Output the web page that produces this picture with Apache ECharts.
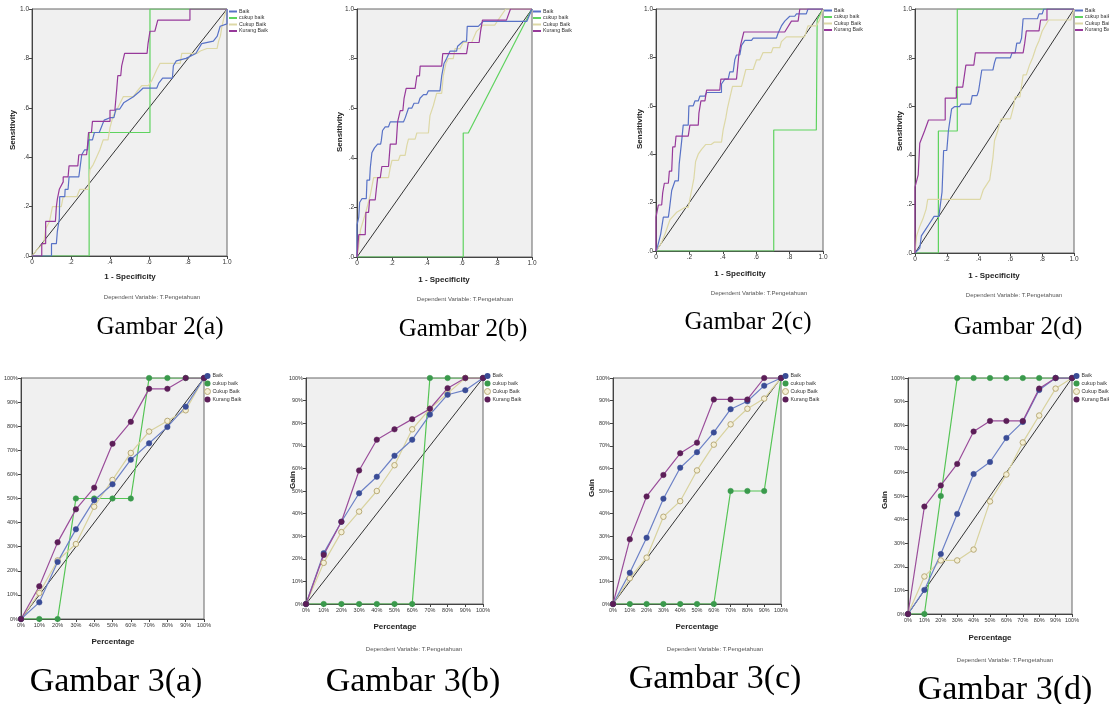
<!DOCTYPE html>
<html>
<head>
<meta charset="utf-8">
<title>ROC dan Gain</title>
<script src="https://cdn.jsdelivr.net/npm/echarts@6/dist/echarts.min.js"></script>
<style>
  html, body { margin: 0; padding: 0; background: #fff; }
  #main { width: 1109px; height: 704px; }
</style>
</head>
<body>
<div id="main"></div>
<script>
// ---- data ----
var groupNames = ['Baik', 'cukup baik', 'Cukup Baik', 'Kurang Baik'];
var diagRoc = [[0, 0], [1, 1]];
var diagGain = [[0, 0], [100, 100]];
var gainPct = [0, 10, 20, 30, 40, 50, 60, 70, 80, 90, 100];

// Gambar 2(a)
var rocA_baik = [[0,0],[0.10,0],[0.10,0.05],[0.125,0.05],[0.13,0.1],[0.14,0.15],[0.142,0.24],[0.168,0.24],[0.17,0.27],[0.185,0.27],[0.19,0.32],[0.24,0.32],[0.245,0.35],[0.255,0.41],[0.265,0.41],[0.27,0.43],[0.285,0.43],[0.29,0.47],[0.31,0.47],[0.32,0.5],[0.345,0.5],[0.35,0.51],[0.37,0.55],[0.40,0.56],[0.42,0.56],[0.43,0.595],[0.45,0.595],[0.47,0.62],[0.52,0.645],[0.55,0.665],[0.57,0.68],[0.64,0.68],[0.65,0.70],[0.67,0.72],[0.72,0.72],[0.725,0.77],[0.74,0.79],[0.79,0.8],[0.84,0.82],[0.87,0.86],[0.93,0.87],[0.95,0.89],[0.965,0.93],[1,0.94],[1,1]];
var rocA_cukup = [[0,0],[0.293,0],[0.293,0.5],[0.605,0.5],[0.605,1],[1,1]];
var rocA_cukupB = [[0,0],[0.03,0.03],[0.06,0.05],[0.07,0.11],[0.09,0.14],[0.105,0.2],[0.15,0.2],[0.16,0.24],[0.23,0.24],[0.245,0.27],[0.29,0.27],[0.297,0.35],[0.314,0.37],[0.331,0.4],[0.348,0.43],[0.365,0.47],[0.39,0.47],[0.4,0.52],[0.417,0.57],[0.434,0.59],[0.468,0.645],[0.52,0.645],[0.537,0.665],[0.563,0.69],[0.597,0.69],[0.614,0.71],[0.64,0.755],[0.657,0.78],[0.76,0.78],[0.768,0.82],[0.846,0.82],[0.863,0.83],[0.897,0.84],[0.949,0.84],[0.957,0.87],[0.966,0.89],[0.974,0.93],[0.986,0.97],[1,1]];
var rocA_kurang = [[0,0],[0.05,0],[0.05,0.05],[0.07,0.05],[0.07,0.14],[0.12,0.14],[0.125,0.2],[0.13,0.23],[0.14,0.27],[0.16,0.3],[0.16,0.32],[0.185,0.32],[0.19,0.365],[0.235,0.365],[0.24,0.41],[0.28,0.41],[0.285,0.45],[0.29,0.5],[0.305,0.5],[0.31,0.545],[0.40,0.545],[0.40,0.59],[0.425,0.59],[0.435,0.68],[0.44,0.73],[0.455,0.73],[0.46,0.77],[0.47,0.77],[0.475,0.82],[0.59,0.82],[0.595,0.86],[0.605,0.91],[0.63,0.91],[0.645,0.955],[0.81,0.955],[0.81,1],[1,1]];

// Gambar 2(b)
var rocB_baik = [[0,0],[0,0.13],[0.01,0.16],[0.015,0.22],[0.028,0.235],[0.053,0.235],[0.057,0.31],[0.072,0.31],[0.076,0.36],[0.085,0.42],[0.1,0.44],[0.118,0.455],[0.135,0.455],[0.139,0.47],[0.146,0.51],[0.161,0.525],[0.18,0.525],[0.19,0.545],[0.266,0.545],[0.275,0.56],[0.294,0.6],[0.313,0.6],[0.326,0.62],[0.351,0.62],[0.36,0.64],[0.38,0.655],[0.398,0.655],[0.408,0.67],[0.474,0.67],[0.484,0.73],[0.497,0.78],[0.512,0.8],[0.531,0.83],[0.569,0.83],[0.575,0.85],[0.607,0.87],[0.626,0.87],[0.63,0.93],[0.693,0.93],[0.721,0.95],[0.97,0.95],[1,1]];
var rocB_cukup = [[0,0],[0.607,0],[0.607,0.5],[0.636,0.5],[1,1]];
var rocB_cukupB = [[0,0],[0.01,0.045],[0.02,0.11],[0.05,0.18],[0.076,0.25],[0.095,0.32],[0.18,0.32],[0.19,0.36],[0.2,0.39],[0.237,0.39],[0.247,0.41],[0.275,0.41],[0.285,0.45],[0.294,0.475],[0.332,0.475],[0.342,0.5],[0.408,0.5],[0.417,0.57],[0.436,0.61],[0.455,0.66],[0.484,0.66],[0.493,0.73],[0.508,0.78],[0.522,0.8],[0.55,0.8],[0.56,0.84],[0.588,0.84],[0.607,0.865],[0.655,0.865],[0.683,0.91],[0.721,0.935],[0.787,0.935],[0.806,0.955],[0.85,1],[1,1]];
var rocB_kurang = [[0,0],[0.01,0.09],[0.047,0.09],[0.051,0.18],[0.066,0.18],[0.072,0.23],[0.104,0.23],[0.11,0.27],[0.118,0.32],[0.133,0.32],[0.142,0.365],[0.18,0.365],[0.19,0.455],[0.224,0.455],[0.232,0.545],[0.247,0.59],[0.262,0.59],[0.269,0.64],[0.281,0.68],[0.332,0.68],[0.342,0.73],[0.357,0.73],[0.361,0.77],[0.484,0.77],[0.49,0.82],[0.626,0.82],[0.636,0.865],[0.698,0.865],[0.706,0.91],[0.717,0.955],[0.854,0.955],[0.877,1],[1,1]];

// Gambar 2(c)
var rocC_baik = [[0,0],[0.01,0.02],[0.028,0.07],[0.044,0.14],[0.074,0.14],[0.08,0.17],[0.094,0.25],[0.114,0.29],[0.134,0.29],[0.139,0.36],[0.153,0.45],[0.163,0.52],[0.193,0.52],[0.197,0.6],[0.223,0.6],[0.233,0.62],[0.253,0.62],[0.263,0.64],[0.293,0.64],[0.303,0.655],[0.392,0.655],[0.392,0.69],[0.412,0.71],[0.432,0.71],[0.442,0.74],[0.462,0.74],[0.472,0.79],[0.482,0.81],[0.502,0.81],[0.512,0.85],[0.532,0.87],[0.572,0.87],[0.582,0.88],[0.721,0.88],[0.731,0.9],[0.751,0.93],[0.771,0.95],[0.801,0.97],[0.831,0.97],[0.841,0.98],[0.9,0.98],[0.91,1],[1,1]];
var rocC_cukup = [[0,0],[0.705,0],[0.705,0.5],[0.96,0.5],[0.965,0.955],[1,1]];
var rocC_cukupB = [[0,0],[0.03,0.03],[0.054,0.07],[0.084,0.13],[0.124,0.16],[0.173,0.18],[0.193,0.18],[0.213,0.25],[0.227,0.3],[0.237,0.37],[0.253,0.4],[0.273,0.42],[0.297,0.44],[0.33,0.44],[0.35,0.45],[0.392,0.45],[0.402,0.5],[0.418,0.55],[0.428,0.59],[0.458,0.68],[0.512,0.68],[0.538,0.75],[0.582,0.75],[0.602,0.79],[0.622,0.79],[0.641,0.82],[0.691,0.82],[0.701,0.84],[0.741,0.84],[0.751,0.865],[0.761,0.865],[0.781,0.885],[0.89,0.885],[0.91,0.93],[0.96,0.93],[0.98,0.955],[1,1]];
var rocC_kurang = [[0,0],[0,0.14],[0.014,0.19],[0.034,0.19],[0.04,0.24],[0.05,0.28],[0.074,0.28],[0.08,0.33],[0.094,0.33],[0.1,0.43],[0.114,0.43],[0.12,0.475],[0.193,0.475],[0.203,0.52],[0.253,0.52],[0.257,0.57],[0.269,0.62],[0.293,0.62],[0.303,0.665],[0.382,0.665],[0.388,0.71],[0.482,0.71],[0.496,0.81],[0.508,0.855],[0.526,0.905],[0.771,0.905],[0.781,0.91],[0.811,0.95],[0.851,0.95],[0.861,1],[1,1]];

// Gambar 2(d)
var rocD_baik = [[0,0],[0.03,0.02],[0.04,0.07],[0.07,0.1],[0.09,0.12],[0.12,0.15],[0.15,0.15],[0.17,0.25],[0.18,0.42],[0.2,0.42],[0.21,0.5],[0.23,0.59],[0.25,0.6],[0.28,0.6],[0.29,0.61],[0.35,0.61],[0.36,0.645],[0.39,0.645],[0.4,0.665],[0.42,0.75],[0.49,0.75],[0.5,0.78],[0.51,0.8],[0.6,0.8],[0.61,0.82],[0.63,0.82],[0.64,0.86],[0.66,0.86],[0.67,0.88],[0.68,0.96],[0.77,0.96],[0.78,0.98],[0.8,0.98],[0.81,1],[1,1]];
var rocD_cukup = [[0,0],[0.147,0],[0.147,0.5],[0.266,0.5],[0.266,1],[1,1]];
var rocD_cukupB = [[0,0],[0.01,0.07],[0.03,0.11],[0.05,0.14],[0.07,0.18],[0.08,0.22],[0.41,0.22],[0.43,0.26],[0.47,0.3],[0.49,0.39],[0.5,0.46],[0.52,0.5],[0.54,0.55],[0.6,0.55],[0.62,0.6],[0.63,0.64],[0.66,0.64],[0.68,0.73],[0.7,0.73],[0.72,0.77],[0.74,0.8],[0.76,0.84],[0.78,0.87],[0.8,0.91],[0.84,0.955],[0.98,0.955],[1,1]];
var rocD_kurang = [[0,0],[0,0.27],[0.02,0.32],[0.03,0.45],[0.06,0.5],[0.085,0.545],[0.19,0.545],[0.19,0.635],[0.26,0.635],[0.26,0.68],[0.3,0.68],[0.32,0.77],[0.37,0.77],[0.38,0.82],[0.68,0.82],[0.69,0.86],[0.7,0.91],[0.78,0.91],[0.79,0.955],[0.83,0.955],[0.83,1],[1,1]];

// Gambar 3 - gain (%)
var gainA_baik   = [0, 6.9, 23.7, 37.2, 49.3, 55.9, 66.1, 72.9, 79.7, 88.1, 100];
var gainA_cukup  = [0, 0, 0, 50, 50, 50, 50, 100, 100, 100, 100];
var gainA_cukupB = [0, 10.8, 24.3, 31.1, 46.6, 57.7, 68.9, 77.8, 82.2, 86.6, 100];
var gainA_kurang = [0, 13.6, 31.8, 45.5, 54.5, 72.7, 81.8, 95.5, 95.5, 100, 100];

var gainB_baik   = [0, 22.5, 36.4, 49, 56.3, 65.6, 72.7, 83.8, 92.6, 94.6, 100];
var gainB_cukup  = [0, 0, 0, 0, 0, 0, 0, 100, 100, 100, 100];
var gainB_cukupB = [0, 18.2, 31.8, 40.9, 50, 61.4, 77.3, 86.4, 93.2, 100, 100];
var gainB_kurang = [0, 21.7, 36.4, 59.1, 72.7, 77.3, 81.8, 86.4, 95.5, 100, 100];

var gainC_baik   = [0, 13.8, 29.3, 46.6, 60.3, 67.2, 75.9, 86.2, 89.7, 96.6, 100];
var gainC_cukup  = [0, 0, 0, 0, 0, 0, 0, 50, 50, 50, 100];
var gainC_cukupB = [0, 11.4, 20.5, 38.6, 45.5, 59.1, 70.5, 79.5, 86.4, 90.9, 100];
var gainC_kurang = [0, 28.6, 47.6, 57.1, 66.7, 71.4, 90.5, 90.5, 90.5, 100, 100];

var gainD_baik   = [0, 10.2, 25.4, 42.4, 59.3, 64.4, 74.6, 81.4, 94.9, 100, 100];
var gainD_cukup  = [0, 0, 50, 100, 100, 100, 100, 100, 100, 100, 100];
var gainD_cukupB = [0, 15.9, 22.7, 22.7, 27.3, 47.7, 59.1, 72.7, 84.1, 95.5, 100];
var gainD_kurang = [0, 45.5, 54.5, 63.6, 77.3, 81.8, 81.8, 81.8, 95.5, 100, 100];

// ---- layout / styles ----
var rocColors  = ['#5872c6', '#5fd35f', '#ddd8a6', '#97399a'];
var gainLine   = ['#6c81c6', '#54c454', '#d8d29e', '#9a4d9a'];
var gainMark   = ['#3a4c96', '#3a9a4c', '#b8aa78', '#5c1e58'];
var drawOrder  = [1, 2, 0, 3];

var panels = [
  { kind: 'roc',  grid: { left: 32,  top: 9,   width: 195, height: 247 }, curves: [rocA_baik, rocA_cukup, rocA_cukupB, rocA_kurang], legend: [229, 9] },
  { kind: 'roc',  grid: { left: 357, top: 9,   width: 175, height: 248 }, curves: [rocB_baik, rocB_cukup, rocB_cukupB, rocB_kurang], legend: [533, 9] },
  { kind: 'roc',  grid: { left: 656, top: 9,   width: 167, height: 242 }, curves: [rocC_baik, rocC_cukup, rocC_cukupB, rocC_kurang], legend: [824, 8] },
  { kind: 'roc',  grid: { left: 915, top: 9,   width: 159, height: 244 }, curves: [rocD_baik, rocD_cukup, rocD_cukupB, rocD_kurang], legend: [1075, 8] },
  { kind: 'gain', grid: { left: 21,  top: 378, width: 183, height: 241 }, curves: [gainA_baik, gainA_cukup, gainA_cukupB, gainA_kurang], legend: [204, 373] },
  { kind: 'gain', grid: { left: 306, top: 378, width: 177, height: 226 }, curves: [gainB_baik, gainB_cukup, gainB_cukupB, gainB_kurang], legend: [484, 373] },
  { kind: 'gain', grid: { left: 613, top: 378, width: 168, height: 226 }, curves: [gainC_baik, gainC_cukup, gainC_cukupB, gainC_kurang], legend: [782, 373] },
  { kind: 'gain', grid: { left: 908, top: 378, width: 164, height: 236 }, curves: [gainD_baik, gainD_cukup, gainD_cukupB, gainD_kurang], legend: [1073, 373] }
];

function rocLabel(v) {
  if (v === 0) return '0';
  if (v === 1) return '1.0';
  return '.' + Math.round(v * 10);
}
function rocYLabel(v) {
  if (v === 1) return '1.0';
  return '.' + Math.round(v * 10);
}

var grids = [], xAxes = [], yAxes = [], series = [], legends = [];

panels.forEach(function (p, i) {
  var isRoc = p.kind === 'roc';
  grids.push({
    left: p.grid.left, top: p.grid.top, width: p.grid.width, height: p.grid.height,
    show: true, backgroundColor: '#f0f0f0', borderColor: '#666', borderWidth: 1
  });
  var common = {
    gridIndex: i, type: 'value',
    axisLine: { show: true, lineStyle: { color: '#444', width: 1 } },
    axisTick: { show: true, length: 3, lineStyle: { color: '#444' } },
    splitLine: { show: false }
  };
  xAxes.push(Object.assign({}, common, {
    min: 0, max: isRoc ? 1 : 100, interval: isRoc ? 0.2 : 10,
    axisLabel: {
      fontSize: isRoc ? 6.5 : 5.5, color: '#333', margin: 3, fontFamily: 'Liberation Sans',
      formatter: isRoc ? rocLabel : '{value}%'
    }
  }));
  yAxes.push(Object.assign({}, common, {
    min: 0, max: isRoc ? 1 : 100, interval: isRoc ? 0.2 : 10,
    axisLabel: {
      fontSize: isRoc ? 6.5 : 5.5, color: '#333', margin: 3, fontFamily: 'Liberation Sans',
      formatter: isRoc ? rocYLabel : '{value}%'
    }
  }));

  series.push({
    type: 'line', name: 'ref', xAxisIndex: i, yAxisIndex: i,
    data: isRoc ? diagRoc : diagGain, showSymbol: false, silent: true,
    lineStyle: { color: '#333', width: 1 }
  });

  drawOrder.forEach(function (g) {
    var s = {
      type: 'line', name: groupNames[g], xAxisIndex: i, yAxisIndex: i, silent: true
    };
    if (isRoc) {
      s.data = p.curves[g];
      s.showSymbol = false;
      s.lineStyle = { color: rocColors[g], width: 1.2 };
      s.itemStyle = { color: rocColors[g] };
    } else {
      var vals = p.curves[g];
      s.data = gainPct.map(function (x, k) { return [x, vals[k]]; });
      s.symbol = 'circle';
      s.symbolSize = 5.5;
      s.lineStyle = { color: gainLine[g], width: 1.2 };
      if (g === 2) {
        s.itemStyle = { color: '#f4efd6', borderColor: gainMark[g], borderWidth: 1 };
      } else {
        s.itemStyle = { color: gainMark[g], borderColor: gainMark[g], borderWidth: 0.5 };
      }
    }
    series.push(s);
  });

  legends.push({
    left: p.legend[0], top: p.legend[1], orient: 'vertical',
    itemGap: 1.5, itemWidth: isRoc ? 8 : 6, itemHeight: isRoc ? 2 : 6,
    padding: 0, selectedMode: false,
    textStyle: { fontSize: 5.3, color: '#333', fontFamily: 'Liberation Sans', padding: [0, 0, 0, -3] },
    data: groupNames.map(function (n, g) {
      if (isRoc) {
        return { name: n, icon: 'rect', itemStyle: { color: rocColors[g], borderWidth: 0 } };
      }
      return {
        name: n, icon: 'circle',
        itemStyle: g === 2
          ? { color: '#f4efd6', borderColor: gainMark[g], borderWidth: 1 }
          : { color: gainMark[g], borderWidth: 0 }
      };
    })
  });
});

// ---- texts ----
function txt(x, y, text, font, color, rot) {
  return {
    type: 'text', x: x, y: y, rotation: rot || 0, silent: true,
    style: {
      text: text, font: font, fill: color || '#222',
      align: 'center', verticalAlign: 'middle',
      textAlign: 'center', textVerticalAlign: 'middle'
    }
  };
}
var axisFont = 'bold 8px "Liberation Sans", Arial, sans-serif';
var depFont = '6px "Liberation Sans", Arial, sans-serif';
var capTop = '25px "Liberation Serif", "Times New Roman", serif';
var capBot = '34px "Liberation Serif", "Times New Roman", serif';
var dep = 'Dependent Variable: T.Pengetahuan';
var R = Math.PI / 2;

var graphics = [
  txt(13, 130, 'Sensitivity', axisFont, '#222', R),
  txt(130, 277, '1 - Specificity', axisFont),
  txt(152, 297, dep, depFont, '#555'),
  txt(160, 327, 'Gambar 2(a)', capTop, '#000'),

  txt(340, 132, 'Sensitivity', axisFont, '#222', R),
  txt(444, 280, '1 - Specificity', axisFont),
  txt(465, 299, dep, depFont, '#555'),
  txt(463, 329, 'Gambar 2(b)', capTop, '#000'),

  txt(640, 129, 'Sensitivity', axisFont, '#222', R),
  txt(740, 274, '1 - Specificity', axisFont),
  txt(759, 293, dep, depFont, '#555'),
  txt(748, 322, 'Gambar 2(c)', capTop, '#000'),

  txt(900, 131, 'Sensitivity', axisFont, '#222', R),
  txt(994, 276, '1 - Specificity', axisFont),
  txt(1014, 295, dep, depFont, '#555'),
  txt(1018, 327, 'Gambar 2(d)', capTop, '#000'),

  txt(113, 642, 'Percentage', axisFont),
  txt(116, 682, 'Gambar 3(a)', capBot, '#000'),

  txt(293, 480, 'Gain', axisFont, '#222', R),
  txt(395, 627, 'Percentage', axisFont),
  txt(414, 649, dep, depFont, '#555'),
  txt(413, 682, 'Gambar 3(b)', capBot, '#000'),

  txt(592, 488, 'Gain', axisFont, '#222', R),
  txt(697, 627, 'Percentage', axisFont),
  txt(715, 649, dep, depFont, '#555'),
  txt(715, 679, 'Gambar 3(c)', capBot, '#000'),

  txt(885, 500, 'Gain', axisFont, '#222', R),
  txt(990, 638, 'Percentage', axisFont),
  txt(1005, 660, dep, depFont, '#555'),
  txt(1005, 690, 'Gambar 3(d)', capBot, '#000')
];

var chart = echarts.init(document.getElementById('main'), null, { renderer: 'canvas' });
var option = {
  animation: false,
  backgroundColor: '#fff',
  grid: grids,
  xAxis: xAxes,
  yAxis: yAxes,
  legend: legends,
  series: series,
  graphic: graphics
};
chart.setOption(option);
</script>
</body>
</html>
